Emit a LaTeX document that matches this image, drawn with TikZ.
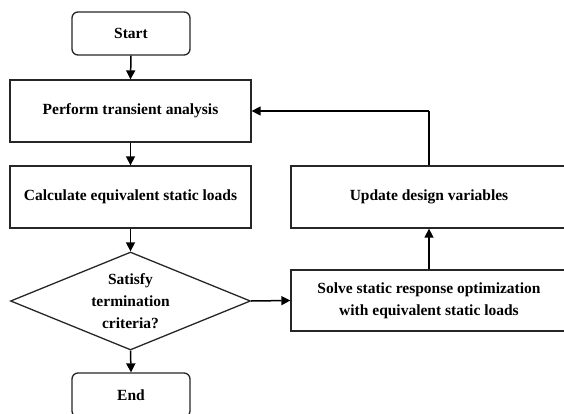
\documentclass[tikz,border=0pt]{standalone}
\usepackage{fontspec}
\setmainfont{Liberation Serif}
\usetikzlibrary{shapes.geometric,arrows.meta}
\begin{document}
\begin{tikzpicture}[x=1pt,y=-1pt,
  every node/.style={font=\fontsize{15.5}{22}\selectfont\bfseries},
  procbox/.style={draw=black!85, line width=1.3pt, rectangle, inner sep=0pt},
  termbox/.style={draw=black!85, line width=1.3pt, rectangle, rounded corners=6pt, inner sep=0pt, minimum width=118pt},
  conn/.style={line width=1.5pt, draw=black, -{Triangle[length=9pt,width=9pt]}},
  plainline/.style={line width=1.5pt, draw=black}
]
\useasboundingbox (0,0) rectangle (564,414);
\clip (0,0) rectangle (564,414);
\node[termbox, minimum height=43pt] (start) at (131,33.5) {Start};
\node[procbox, minimum width=241pt, minimum height=62pt] (perf) at (130.5,111) {Perform transient analysis};
\node[procbox, minimum width=241pt, minimum height=62pt] (calc) at (130.5,197) {Calculate equivalent static loads};
\node[diamond, draw=black!85, line width=1.3pt, inner sep=0pt, minimum width=240pt, minimum height=98pt] (dec) at (130.5,301) {};
\node[align=center] (dectext) at (130.5,301) {Satisfy\\termination\\criteria?};
\node[termbox, minimum height=44pt] (end) at (131,395) {End};
\node[procbox, minimum width=276pt, minimum height=61pt, align=center] (solve) at (429,300.5) {Solve static response optimization\\with equivalent static loads};
\node[procbox, minimum width=276pt, minimum height=62pt] (upd) at (429,197) {Update design variables};
\coordinate (corner) at (429,111);
\draw[conn] (start.south) -- (perf.north);
\draw[conn] (perf.south) -- (calc.north);
\draw[conn] (calc.south) -- (dec.north);
\draw[conn] (dec.south) -- (end.north);
\draw[conn] (dec.east) -- (solve.west);
\draw[conn] (solve.north) -- (upd.south);
\draw[plainline] (upd.north) -- (corner);
\draw[conn] (corner) -- (perf.east);
\end{tikzpicture}
\end{document}
